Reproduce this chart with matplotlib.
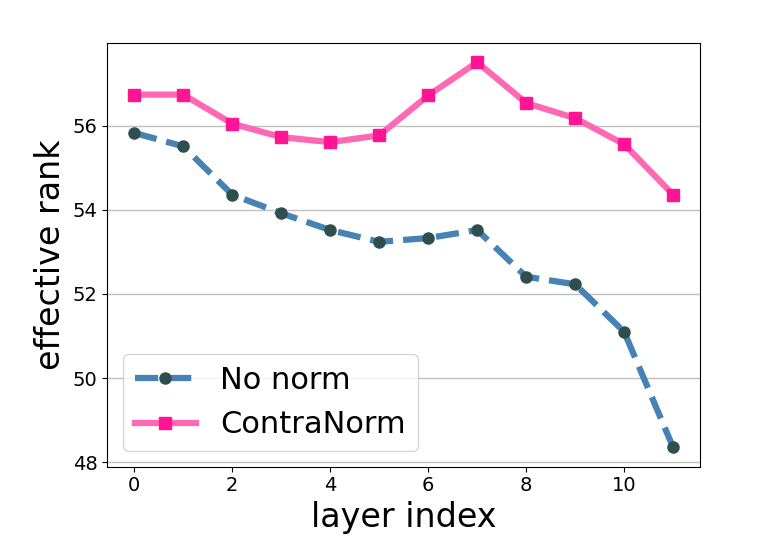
import numpy as np
import matplotlib
matplotlib.use("Agg")
import matplotlib.pyplot as plt

layers = np.arange(12)
no_norm = [55.83, 55.51, 54.36, 53.92, 53.52, 53.24, 53.33, 53.52, 52.41, 52.23, 51.10, 48.35]
contra_norm = [56.74, 56.74, 56.05, 55.73, 55.61, 55.77, 56.72, 57.51, 56.54, 56.18, 55.56, 54.36]

fig, ax = plt.subplots(figsize=(7.61, 5.44), dpi=100)
fig.subplots_adjust(left=0.141, right=0.92, bottom=0.142, top=0.921)

ax.plot(layers, no_norm, '--', color='steelblue', lw=4.5, marker='o', ms=8,
        mfc='darkslategray', mec='darkslategray', label='No norm')
ax.plot(layers, contra_norm, '-', color='hotpink', lw=4.5, marker='s', ms=8,
        mfc='deeppink', mec='deeppink', label='ContraNorm')

ax.grid(axis='y', color='#c0c0c0', lw=1)
ax.set_axisbelow(True)
ax.set_xticks(range(0, 12, 2))
ax.tick_params(labelsize=14)
ax.set_xlabel('layer index', fontsize=24)
ax.set_ylabel('effective rank', fontsize=24)
ax.legend(loc='lower left', fontsize=22)

plt.savefig('out.png')
